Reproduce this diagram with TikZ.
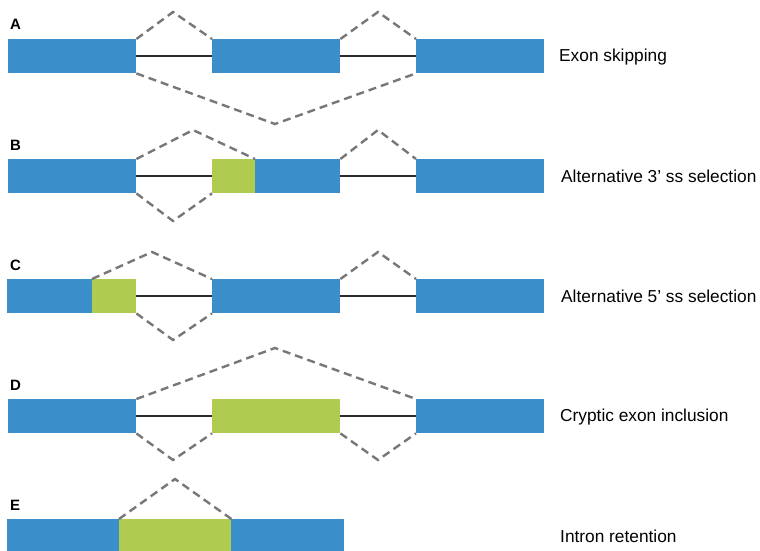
\documentclass[tikz,border=0pt]{standalone}
\usepackage{fontspec}
\setmainfont{Liberation Sans}
\definecolor{exonblue}{HTML}{3A8FCB}
\definecolor{altgreen}{HTML}{AFCB50}
\definecolor{splicegray}{HTML}{777777}
\definecolor{introngray}{HTML}{2A2A2A}
\begin{document}
\begin{tikzpicture}[x=1pt,y=-1pt,
  exonbox/.style={fill=exonblue, draw=none, inner sep=0pt, anchor=north west, minimum height=34pt},
  altbox/.style={fill=altgreen, draw=none, inner sep=0pt, anchor=north west, minimum height=34pt},
  intron/.style={draw=introngray, line width=2.4pt},
  splice/.style={draw=splicegray, line width=2.4pt, dash pattern=on 8pt off 5pt},
  panel/.style={font=\fontsize{15}{17}\selectfont\bfseries, anchor=base west, inner sep=0pt},
  caption/.style={font=\fontsize{17.3}{20}\selectfont, anchor=base west, inner sep=0pt}
]
\useasboundingbox (0,0) rectangle (760,551);

% ---------- A: exon skipping ----------
\node[panel] (labA) at (10,30) {A};
\node[exonbox, minimum width=128pt] (a1) at (8,39) {};
\node[exonbox, minimum width=128pt] (a2) at (212,39) {};
\node[exonbox, minimum width=128pt] (a3) at (416,39) {};
\draw[intron] (a1.east) -- (a2.west);
\draw[intron] (a2.east) -- (a3.west);
\coordinate (pA1) at (173,12);
\coordinate (pA2) at (378,12);
\coordinate (vA) at (275,124);
\draw[splice] (a1.north east) -- (pA1) -- (a2.north west);
\draw[splice] (a2.north east) -- (pA2) -- (a3.north west);
\draw[splice] (a1.south east) -- (vA) -- (a3.south west);
\node[caption] (capA) at (559,61.5) {Exon skipping};

% ---------- B: alternative 3' splice site ----------
\node[panel] (labB) at (10,150) {B};
\node[exonbox, minimum width=128pt] (b1) at (8,159) {};
\node[altbox, minimum width=43pt] (b2g) at (212,159) {};
\node[exonbox, minimum width=85pt] (b2) at (255,159) {};
\node[exonbox, minimum width=128pt] (b3) at (416,159) {};
\draw[intron] (b1.east) -- (b2g.west);
\draw[intron] (b2.east) -- (b3.west);
\coordinate (pB1) at (193,130);
\coordinate (vB1) at (173,221);
\coordinate (pB2) at (378,130);
\draw[splice] (b1.north east) -- (pB1) -- (b2.north west);
\draw[splice] (b1.south east) -- (vB1) -- (b2g.south west);
\draw[splice] (b2.north east) -- (pB2) -- (b3.north west);
\node[caption] (capB) at (561,182) {Alternative 3’ ss selection};

% ---------- C: alternative 5' splice site ----------
\node[panel] (labC) at (10,270) {C};
\node[exonbox, minimum width=85pt] (c1) at (7,279) {};
\node[altbox, minimum width=44pt] (c1g) at (92,279) {};
\node[exonbox, minimum width=128pt] (c2) at (212,279) {};
\node[exonbox, minimum width=128pt] (c3) at (416,279) {};
\draw[intron] (c1g.east) -- (c2.west);
\draw[intron] (c2.east) -- (c3.west);
\coordinate (pC1) at (152,252);
\coordinate (vC1) at (173,340);
\coordinate (pC2) at (378,252);
\draw[splice] (c1g.north west) -- (pC1) -- (c2.north west);
\draw[splice] (c1g.south east) -- (vC1) -- (c2.south west);
\draw[splice] (c2.north east) -- (pC2) -- (c3.north west);
\node[caption] (capC) at (561,302.5) {Alternative 5’ ss selection};

% ---------- D: cryptic exon inclusion ----------
\node[panel] (labD) at (10,390) {D};
\node[exonbox, minimum width=128pt] (d1) at (8,399) {};
\node[altbox, minimum width=128pt] (d2) at (212,399) {};
\node[exonbox, minimum width=128pt] (d3) at (416,399) {};
\draw[intron] (d1.east) -- (d2.west);
\draw[intron] (d2.east) -- (d3.west);
\coordinate (pD) at (275,348);
\coordinate (vD1) at (173,460);
\coordinate (vD2) at (378,460);
\draw[splice] (d1.north east) -- (pD) -- (d3.north west);
\draw[splice] (d1.south east) -- (vD1) -- (d2.south west);
\draw[splice] (d2.south east) -- (vD2) -- (d3.south west);
\node[caption] (capD) at (560,421) {Cryptic exon inclusion};

% ---------- E: intron retention ----------
\node[panel] (labE) at (10,510) {E};
\node[exonbox, minimum width=112pt, minimum height=32pt] (e1) at (7,519) {};
\node[altbox, minimum width=112pt, minimum height=32pt] (eg) at (119,519) {};
\node[exonbox, minimum width=113pt, minimum height=32pt] (e2) at (231,519) {};
\coordinate (pE) at (175,479);
\draw[splice] (eg.north west) -- (pE) -- (eg.north east);
\node[caption] (capE) at (560,542.5) {Intron retention};
\end{tikzpicture}
\end{document}
